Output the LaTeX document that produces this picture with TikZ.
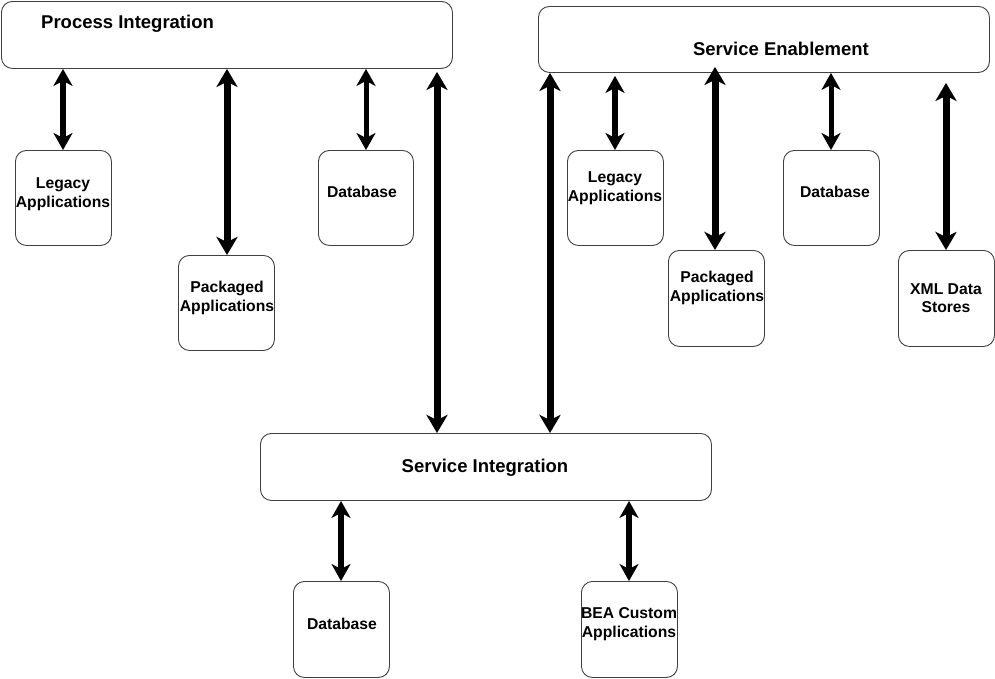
\documentclass[tikz,border=0pt]{standalone}
\usepackage{fontspec}
\setmainfont{Liberation Sans}
\usetikzlibrary{arrows.meta}
\begin{document}
\begin{tikzpicture}[x=1pt,y=-1pt,
  box/.style={draw=black!75, line width=0.9pt, rounded corners=11pt, anchor=north west, inner sep=0pt},
  bigt/.style={font=\fontsize{18.5}{22}\selectfont\bfseries, inner sep=0pt},
  lbl/.style={font=\fontsize{15.7}{18.5}\selectfont\bfseries, align=center, inner sep=0pt},
  arr/.style={line width=5.5pt, {Stealth[length=17pt,width=19pt,inset=5pt]}-{Stealth[length=17pt,width=19pt,inset=5pt]}},
  arrb/.style={arr, line width=7pt, {Stealth[length=18pt,width=21pt,inset=5pt]}-{Stealth[length=18pt,width=21pt,inset=5pt]}}
]
\useasboundingbox (0,0) rectangle (995,678);
% main boxes
\node[box, minimum width=451pt, minimum height=67pt] (pi) at (1,1) {};
\node[box, minimum width=451pt, minimum height=66pt] (se) at (538,6) {};
\node[box, minimum width=451pt, minimum height=67pt] (si) at (260,433) {};
\node[bigt, anchor=base west] (pit) at (41,28) {Process Integration};
\node[bigt, anchor=base] (set) at (781,55) {Service Enablement};
\node[bigt, anchor=base] (sit) at (485,472) {Service Integration};
% PI children
\node[box, minimum width=96pt, minimum height=95pt] (leg1) at (15,150) {};
\node[box, minimum width=96pt, minimum height=95pt] (pak1) at (178,255) {};
\node[box, minimum width=95pt, minimum height=95pt] (db1) at (318,150) {};
% SE children
\node[box, minimum width=96pt, minimum height=95pt] (leg2) at (567,150) {};
\node[box, minimum width=96pt, minimum height=96pt] (pak2) at (668,250) {};
\node[box, minimum width=96pt, minimum height=95pt] (db2) at (783,150) {};
\node[box, minimum width=96pt, minimum height=96pt] (xml) at (898,250) {};
% SI children
\node[box, minimum width=96pt, minimum height=96pt] (db3) at (293,581) {};
\node[box, minimum width=96pt, minimum height=96pt] (bea) at (581,581) {};
% labels
\node[lbl] (leg1t) at (63,194) {Legacy\\Applications};
\node[lbl] (pak1t) at (227,298) {Packaged\\Applications};
\node[lbl, anchor=base] (db1t) at (362,197) {Database};
\node[lbl] (leg2t) at (615,188) {Legacy\\Applications};
\node[lbl] (pak2t) at (717,288) {Packaged\\Applications};
\node[lbl, anchor=base] (db2t) at (835,197) {Database};
\node[lbl] (xmlt) at (946,298) {XML Data\\Stores};
\node[lbl, anchor=base] (db3t) at (342,629) {Database};
\node[lbl] (beat) at (629,624) {BEA Custom\\Applications};
% connector x positions
\coordinate (x1) at (63,0);
\coordinate (x2) at (227,0);
\coordinate (x3) at (366,0);
\coordinate (x4) at (437,0);
\coordinate (x5) at (550,0);
\coordinate (x6) at (615,0);
\coordinate (x7) at (715,0);
\coordinate (x8) at (831,0);
\coordinate (x9) at (946,0);
\coordinate (x10) at (341,0);
\coordinate (x11) at (629,0);
% arrows
\draw[arr] (pi.south -| x1) -- (leg1.north -| x1);
\draw[arrb] (pi.south -| x2) -- (pak1.north -| x2);
\draw[arr, line width=5pt] (pi.south -| x3) -- (db1.north -| x3);
\draw[arrb, shorten <=3pt] (pi.south -| x4) -- (si.north -| x4);
\draw[arrb] (se.south -| x5) -- (si.north -| x5);
\draw[arr, shorten <=3pt] (se.south -| x6) -- (leg2.north -| x6);
\draw[arrb, shorten <=-6pt] (se.south -| x7) -- (pak2.north -| x7);
\draw[arr, line width=5pt] (se.south -| x8) -- (db2.north -| x8);
\draw[arrb, shorten <=10pt] (se.south -| x9) -- (xml.north -| x9);
\draw[arr] (si.south -| x10) -- (db3.north -| x10);
\draw[arr] (si.south -| x11) -- (bea.north -| x11);
\end{tikzpicture}
\end{document}
